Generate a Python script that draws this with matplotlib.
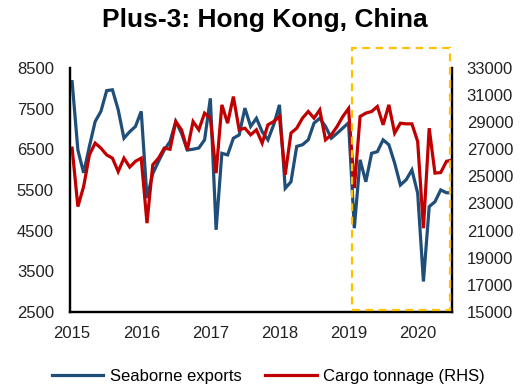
import matplotlib
matplotlib.use("Agg")
import matplotlib.pyplot as plt
from matplotlib.patches import Rectangle
import numpy as np

plt.rcParams['font.family'] = ['Liberation Sans', 'DejaVu Sans']

# monthly, Jan 2015 - Jul 2020
years = ['2015', '2016', '2017', '2018', '2019', '2020']
seaborne_exports = [
    8160, 6480, 5920, 6570, 7180, 7430, 7940, 7960, 7470, 6770, 6930, 7060,
    7430, 5300, 5900, 6200, 6480, 6690, 7180, 6890, 6480, 6500, 6530, 6730,
    7750, 4520, 6400, 6360, 6770, 6850, 7510, 7060, 7260, 6930, 6730, 7100,
    7590, 5540, 5700, 6570, 6610, 6730, 7140, 7260, 7060, 6770, 6890, 7020,
    7150, 4560, 6240, 5700, 6400, 6440, 6730, 6610, 6160, 5620, 5750, 5990,
    5420, 3250, 5090, 5210, 5500, 5430, 5430,
]
cargo_tonnage = [
    27080, 22770, 24250, 26580, 27450, 27080, 26580, 26340, 25350, 26340, 25680, 26110,
    26340, 21550, 25850, 26340, 27080, 27000, 29040, 28430, 26950, 29040, 28430, 29660,
    29290, 25240, 30270, 28920, 30880, 28430, 28550, 28060, 28430, 27450, 28800, 29040,
    29410, 25110, 28190, 28550, 29290, 29780, 29290, 29900, 27690, 28060, 28670, 29410,
    30000, 24130, 29410, 29660, 29780, 30150, 28800, 30270, 28190, 28920, 28870, 28870,
    27570, 21180, 28550, 25240, 25280, 26110, 26200,
]

blue = '#1F4E79'
red = '#C00000'
months = np.arange(len(seaborne_exports))

fig = plt.figure(figsize=(5.21, 3.92), dpi=100)
ax = fig.add_axes([0.134, 0.204, 0.734, 0.623])
ax2 = ax.twinx()

l1, = ax.plot(months, seaborne_exports, color=blue, lw=2.3, solid_joinstyle='miter')
l2, = ax2.plot(months, cargo_tonnage, color=red, lw=2.3, solid_joinstyle='miter')
ax2.set_zorder(ax.get_zorder() + 1)

ax.set_xlim(-0.4, 66)
ax.set_ylim(2500, 8500)
ax2.set_ylim(15000, 33000)
ax.set_yticks(np.arange(2500, 8501, 1000))
ax2.set_yticks(np.arange(15000, 33001, 2000))
ax.set_xticks(np.arange(0, 61, 12))
ax.set_xticklabels(years)

for a in (ax, ax2):
    a.spines['top'].set_visible(False)
    for s in ('left', 'right', 'bottom'):
        a.spines[s].set_linewidth(1.6)
        a.spines[s].set_color('black')
    a.tick_params(length=0, labelsize=12, colors='#222222')
ax.tick_params(axis='x', pad=10)
ax.tick_params(axis='y', pad=11.5)
ax2.tick_params(axis='y', pad=10.5)

# highlight box around 2019-2020
box = Rectangle((0.738, 0.008), 0.257, 1.074, transform=ax.transAxes,
                fill=False, edgecolor='#FFC000', lw=1.6, ls=(0, (3.5, 2.5)),
                clip_on=False, zorder=5)
ax2.add_patch(box)

fig.suptitle('Plus-3: Hong Kong, China', x=0.508, y=0.95, va='center',
             fontsize=19, fontweight='bold')

fig.legend([l1, l2], ['Seaborne exports', 'Cargo tonnage (RHS)'],
           loc='center', bbox_to_anchor=(0.515, 0.04), ncol=2, frameon=False,
           fontsize=12, handlelength=3.1, columnspacing=1.4, handletextpad=0.4)

fig.savefig('out.png', dpi=100)
